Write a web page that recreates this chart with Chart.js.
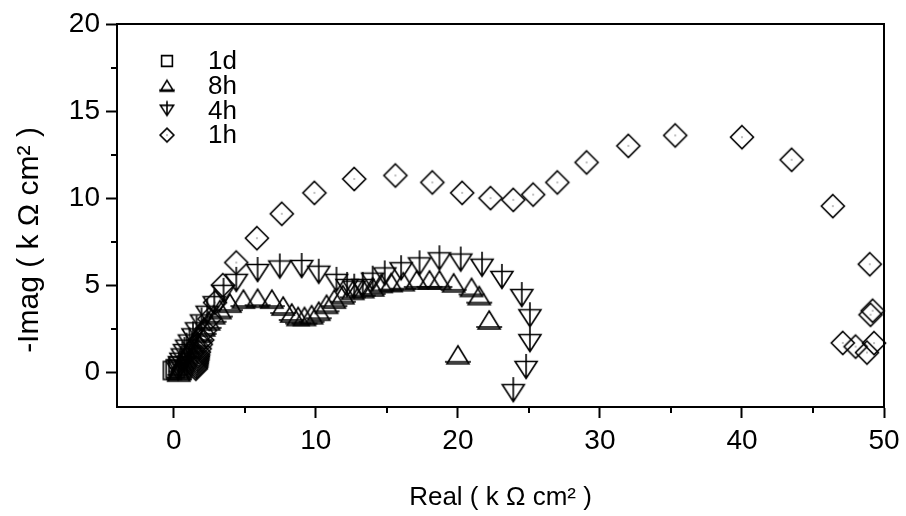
<!DOCTYPE html>
<html>
<head>
<meta charset="utf-8">
<script src="https://cdn.jsdelivr.net/npm/chart.js@4.4.1/dist/chart.umd.min.js"></script>
<style>
  html, body { margin: 0; padding: 0; background: #fff; }
  #wrap { width: 906px; height: 516px; }
</style>
</head>
<body>
<div id="wrap"><canvas id="nyquist" width="906" height="516"></canvas></div>
<script>
// Nyquist data, in k ohm cm^2
const seriesNames = ['1d', '8h', '4h', '1h'];

const real1d = [-0.1, 0.1, 0.3];
const imag1d = [0.1, 0.2, 0.35];

const real8h = [0.35, 0.4, 0.45, 0.55, 0.65, 0.8, 0.95, 1.1, 1.3, 1.55, 1.8, 2.1, 2.45, 2.8, 3.24, 3.95,
                4.9, 5.9, 6.9, 7.7, 8.3, 8.75, 9.2, 9.7, 10.2, 10.75, 11.3, 11.9, 12.6, 13.3, 14.0, 14.6,
                15.3, 16.15, 17.1, 18.0, 18.7, 19.7, 20.96, 21.5, 22.2, 20.0];
const imag8h = [0.0, 0.1, 0.25, 0.45, 0.65, 0.85, 1.05, 1.3, 1.6, 1.9, 2.25, 2.6, 2.95, 3.3, 3.6, 3.97,
                4.2, 4.25, 4.2, 3.8, 3.4, 3.2, 3.2, 3.3, 3.5, 3.9, 4.2, 4.45, 4.7, 4.8, 4.9, 5.1,
                5.15, 5.2, 5.3, 5.3, 5.3, 5.13, 4.87, 4.4, 3.0, 1.0];

const real4h = [0.3, 0.35, 0.4, 0.5, 0.6, 0.75, 0.9, 1.1, 1.35, 1.6, 1.95, 2.35, 2.85, 3.5, 4.4, 5.9,
                7.46, 9.0, 10.2, 11.45, 12.2, 12.7, 13.3, 14.0, 14.85, 16.0, 17.3, 18.7, 20.2, 21.7,
                23.1, 24.5, 25.07, 25.07, 24.8, 23.9];
const imag4h = [0.05, 0.2, 0.4, 0.6, 0.85, 1.1, 1.35, 1.65, 2.0, 2.35, 2.8, 3.3, 3.85, 4.5, 5.13, 5.7,
                5.9, 5.93, 5.6, 5.13, 4.84, 4.74, 4.84, 5.2, 5.5, 5.8, 6.08, 6.37, 6.3, 6.0,
                5.3, 4.26, 3.1, 1.67, 0.13, -1.2];

const real1h = [1.55, 1.58, 1.6, 1.62, 1.64, 1.66, 1.68, 1.7, 1.72, 1.76, 1.82, 1.9, 2.0, 2.2, 2.5, 2.9,
                3.45, 4.4, 5.85, 7.6, 9.9, 12.7, 15.6, 18.2, 20.3, 22.3, 23.9, 25.3, 27.0, 29.06, 32.0,
                35.3, 40.0, 43.5, 46.4, 49.0, 49.2, 49.05, 49.3, 48.8, 48.0, 47.1];
const imag1h = [0.2, 0.3, 0.4, 0.5, 0.6, 0.7, 0.8, 0.9, 1.0, 1.15, 1.35, 1.6, 1.85, 2.4, 3.05, 4.0,
                5.0, 6.3, 7.7, 9.1, 10.3, 11.1, 11.3, 10.9, 10.3, 10.0, 9.9, 10.2, 10.9, 12.05, 13.0,
                13.6, 13.5, 12.2, 9.54, 6.2, 3.53, 3.3, 1.67, 1.13, 1.47, 1.68];

const xTicks = [0, 10, 20, 30, 40, 50];
const yTicks = [0, 5, 10, 15, 20];
const xMinorTicks = [5, 15, 25, 35, 45];
const yMinorTicks = [2.5, 7.5, 12.5, 17.5];

const xTitle = 'Real ( k Ω cm² )';
const yTitle = '-Imag ( k Ω cm² )';

const FONT = "'Liberation Sans', Arial, sans-serif";

// hollow Origin-style symbols drawn on a small canvas
function makeSymbol(kind, k) {
    const c = document.createElement('canvas');
    c.width = 40; c.height = 40;
    const g = c.getContext('2d');
    g.strokeStyle = '#000';
    g.lineWidth = 1.6;
    g.translate(20, 20);
    g.beginPath();
    if (kind === 'square') {
        g.rect(-9 * k, -9 * k, 18 * k, 18 * k);
    } else if (kind === 'up') {
        g.moveTo(0, -9 * k); g.lineTo(11 * k, 9 * k); g.lineTo(-11 * k, 9 * k); g.closePath();
        g.moveTo(-13 * k, 7 * k); g.lineTo(13 * k, 7 * k);
    } else if (kind === 'down') {
        g.moveTo(-11 * k, -8.5 * k); g.lineTo(11 * k, -8.5 * k); g.lineTo(0, 8.5 * k); g.closePath();
        g.moveTo(0, -16 * k); g.lineTo(0, 8.5 * k);
    } else {
        g.moveTo(0, -11.5 * k); g.lineTo(11.5 * k, 0); g.lineTo(0, 11.5 * k); g.lineTo(-11.5 * k, 0); g.closePath();
    }
    g.stroke();
    if (kind === 'diamond') {
        g.fillStyle = '#000';
        g.fillRect(-0.5, -0.5, 1, 1);
    }
    return c;
}

const kinds = ['square', 'up', 'down', 'diamond'];
const plotSymbols = kinds.map(k => makeSymbol(k, 1));
const legendSymbols = kinds.map(k => makeSymbol(k, 0.6));

function toPoints(xs, ys) {
    return xs.map((x, i) => ({ x: x, y: ys[i] }));
}

const seriesData = [
    toPoints(real1d, imag1d),
    toPoints(real8h, imag8h),
    toPoints(real4h, imag4h),
    toPoints(real1h, imag1h)
];

// box frame on top and right
const framePlugin = {
    id: 'frame',
    afterDraw(chart) {
        const { ctx, chartArea: a } = chart;
        ctx.save();
        ctx.strokeStyle = '#000';
        ctx.lineWidth = 2;
        ctx.beginPath();
        ctx.moveTo(a.left, a.top); ctx.lineTo(a.right, a.top); ctx.lineTo(a.right, a.bottom);
        ctx.stroke();
        ctx.restore();
    }
};

// short minor ticks between the labelled ones
const minorTicksPlugin = {
    id: 'minorTicks',
    afterDraw(chart) {
        const { ctx, chartArea: a, scales } = chart;
        ctx.save();
        ctx.strokeStyle = '#000';
        ctx.lineWidth = 2;
        ctx.beginPath();
        xMinorTicks.forEach(v => {
            const px = Math.round(scales.x.getPixelForValue(v));
            ctx.moveTo(px, a.bottom); ctx.lineTo(px, a.bottom + 6);
        });
        yMinorTicks.forEach(v => {
            const py = Math.round(scales.y.getPixelForValue(v));
            ctx.moveTo(a.left, py); ctx.lineTo(a.left - 6, py);
        });
        ctx.stroke();
        ctx.restore();
    }
};

// y title sits a bit below the middle of the axis, as in the original
const yTitlePlugin = {
    id: 'yTitle',
    afterDraw(chart) {
        const { ctx } = chart;
        ctx.save();
        ctx.fillStyle = '#000';
        ctx.font = '30px ' + FONT;
        ctx.textAlign = 'center';
        ctx.textBaseline = 'middle';
        ctx.translate(30, 240);
        ctx.rotate(-Math.PI / 2);
        ctx.fillText(yTitle, 0, 0);
        ctx.restore();
    }
};

// legend inside the plot, top left
const legendPlugin = {
    id: 'innerLegend',
    afterDraw(chart) {
        const { ctx, chartArea: a } = chart;
        ctx.save();
        ctx.fillStyle = '#000';
        ctx.font = '26px ' + FONT;
        ctx.textBaseline = 'middle';
        chart.data.datasets.forEach((ds, i) => {
            const y = a.top + 37 + i * 24.7;
            const sym = legendSymbols[i];
            ctx.drawImage(sym, a.left + 50 - sym.width / 2, y - sym.height / 2);
            ctx.fillText(ds.label, a.left + 91, y + 1);
        });
        ctx.restore();
    }
};

const tickFont = { family: FONT, size: 28 };

new Chart(document.getElementById('nyquist').getContext('2d'), {
    type: 'scatter',
    data: {
        datasets: seriesNames.map((name, i) => ({
            label: name,
            data: seriesData[i],
            pointStyle: plotSymbols[i],
            pointRadius: 10,
            showLine: false,
            clip: false
        }))
    },
    options: {
        responsive: false,
        animation: false,
        layout: { padding: { top: 24, right: 22, left: 0, bottom: 0 } },
        plugins: {
            legend: { display: false },
            tooltip: { enabled: false }
        },
        scales: {
            x: {
                type: 'linear',
                min: -4,
                max: 50,
                afterBuildTicks: axis => { axis.ticks = xTicks.map(v => ({ value: v })); },
                afterFit: axis => { axis.height = 109; },
                grid: { drawOnChartArea: false, tickLength: 11, tickWidth: 2, tickColor: '#000' },
                border: { color: '#000', width: 2 },
                ticks: { color: '#000', font: tickFont, padding: 6, maxRotation: 0 },
                title: {
                    display: true,
                    text: xTitle,
                    color: '#000',
                    font: { family: FONT, size: 26 },
                    padding: { top: 0, bottom: 3 }
                }
            },
            y: {
                type: 'linear',
                min: -2,
                max: 20,
                afterBuildTicks: axis => { axis.ticks = yTicks.map(v => ({ value: v })); },
                afterFit: axis => { axis.width = 117; },
                grid: { drawOnChartArea: false, tickLength: 11, tickWidth: 2, tickColor: '#000' },
                border: { color: '#000', width: 2 },
                ticks: { color: '#000', font: tickFont, padding: 6 }
            }
        }
    },
    plugins: [framePlugin, minorTicksPlugin, yTitlePlugin, legendPlugin]
});
</script>
</body>
</html>
